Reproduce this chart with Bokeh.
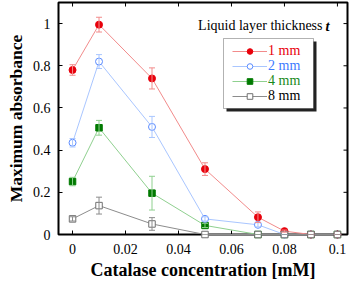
import math
from bokeh.plotting import figure
from bokeh.models import (ColumnDataSource, Whisker, FixedTicker,
                          NumeralTickFormatter, Legend, LegendItem, Label,
                          BoxAnnotation, Range1d)
from bokeh.embed import file_html
from bokeh.resources import INLINE

# ---- data ----
conc = [0, 0.01, 0.03, 0.05, 0.07, 0.08, 0.09, 0.1]
abs_1mm = [0.78, 0.995, 0.74, 0.31, 0.082, 0.016, 0.0, 0.0]
err_1mm = [0.025, 0.035, 0.05, 0.03, 0.025, 0.005, 0.0, 0.0]
abs_2mm = [0.435, 0.82, 0.51, 0.074, 0.046, 0.0, 0.0, 0.0]
err_2mm = [0.02, 0.033, 0.05, 0.01, 0.01, 0.0, 0.0, 0.0]
abs_4mm = [0.251, 0.506, 0.196, 0.043, 0.0, 0.0, 0.0, 0.0]
err_4mm = [0.02, 0.035, 0.08, 0.01, 0.0, 0.0, 0.0, 0.0]
abs_8mm = [0.074, 0.137, 0.05, 0.0, 0.0, 0.0, 0.0, 0.0]
err_8mm = [0.01, 0.04, 0.03, 0.0, 0.0, 0.0, 0.0, 0.0]
series_labels = ["1 mm", "2 mm", "4 mm", "8 mm"]
x_ticks = [0, 0.02, 0.04, 0.06, 0.08, 0.1]
y_ticks = [0, 0.2, 0.4, 0.6, 0.8, 1.0]

SERIF = "Liberation Serif"
W, H = 350, 283
X0, X1, Y0, Y1 = -0.0053, 0.1038, 0.0, 1.1
BL, BR, BT, BB = 58, 3, 2, 49
p = figure(width=W, height=H, output_backend="svg", toolbar_location=None,
           x_range=Range1d(X0, X1), y_range=Range1d(Y0, Y1),
           min_border_left=BL, min_border_right=BR, min_border_top=BT,
           min_border_bottom=BB)
p.xgrid.visible = False
p.ygrid.visible = False
p.outline_line_color = "black"
p.outline_line_width = 2
p.background_fill_color = "white"
p.border_fill_color = "white"


def style_axis(ax, ticks, fmt):
    ax.ticker = FixedTicker(ticks=ticks)
    ax.formatter = NumeralTickFormatter(format=fmt)
    ax.major_tick_in = 4
    ax.major_tick_out = 0
    ax.minor_tick_in = 0
    ax.minor_tick_out = 0
    ax.axis_line_color = None
    ax.major_tick_line_color = "black"
    ax.major_tick_line_width = 1
    ax.major_label_text_font = SERIF
    ax.major_label_text_color = "black"
    ax.major_label_text_font_size = "14px"
    ax.axis_label_text_font = SERIF
    ax.axis_label_text_font_style = "bold"
    ax.axis_label_text_color = "black"


style_axis(p.xaxis[0], x_ticks, "0.[00]")
style_axis(p.yaxis[0], y_ticks, "0.[0]")
p.xaxis[0].major_label_standoff = 9
p.yaxis[0].major_label_standoff = 8
p.xaxis[0].axis_label = "Catalase concentration [mM]"
p.xaxis[0].axis_label_standoff = 3
p.xaxis[0].axis_label_text_font_size = "18px"
p.yaxis[0].axis_label = "Maximum absorbance"
p.yaxis[0].axis_label_standoff = 4
p.yaxis[0].axis_label_text_font_size = "17.5px"

frame_bottom = H - BB

# mirrored inward ticks on the top and right edges (clipped half-dashes)
p.scatter(x=x_ticks, y=[Y1] * len(x_ticks), marker="dash", size=8,
          angle=math.pi / 2, line_color="black", line_width=1)
p.scatter(x=[X1] * len(y_ticks), y=y_ticks, marker="dash", size=8,
          line_color="black", line_width=1)

# ---- series ----
specs = [
    (abs_1mm, err_1mm, "#f28b8b", "circle", "#e8000b", "#e8000b", 7, "#e8000b"),
    (abs_2mm, err_2mm, "#a9c6ff", "circle", "white", "#5b8cff", 7, "#3d7bff"),
    (abs_4mm, err_4mm, "#8fd08f", "square", "#007a00", "#007a00", 6.5, "#1a8a1a"),
    (abs_8mm, err_8mm, "#8c8c8c", "square", "white", "#707070", 6.5, "black"),
]
draw_order = [2, 1, 0, 3]
renderers = {}
for i in draw_order:
    ys, es, lc, mk, fc, mc, sz, tc = specs[i]
    src = ColumnDataSource(dict(
        x=conc, y=ys,
        lo=[a - b for a, b in zip(ys, es)],
        hi=[a + b for a, b in zip(ys, es)]))
    wh = Whisker(source=src, base="x", lower="lo", upper="hi",
                 line_color=lc, line_width=1, level="overlay")
    wh.upper_head.size = 6
    wh.lower_head.size = 6
    wh.upper_head.line_color = lc
    wh.lower_head.line_color = lc
    p.add_layout(wh)
    ln = p.line("x", "y", source=src, line_color=lc, line_width=1,
                level="overlay")
    sc = p.scatter("x", "y", source=src, marker=mk, size=sz, fill_color=fc,
                   line_color=mc, line_width=1, level="overlay")
    renderers[i] = (ln, sc)

# ---- legend (canvas pixel coordinates) ----
box_l, box_r, box_t, box_b = 223, 313, 38, 108
p.add_layout(BoxAnnotation(left=box_l + 3, right=box_r + 3,
                           top=box_t + 3, bottom=box_b + 3,
                           left_units="canvas", right_units="canvas",
                           top_units="canvas", bottom_units="canvas",
                           fill_color="#222222", fill_alpha=1,
                           line_color=None, level="annotation"))
p.add_layout(BoxAnnotation(left=box_l, right=box_r, top=box_t, bottom=box_b,
                           left_units="canvas", right_units="canvas",
                           top_units="canvas", bottom_units="canvas",
                           fill_color="white", fill_alpha=1,
                           line_color="black", line_width=1,
                           level="annotation"))

for i in range(4):
    ln, sc = renderers[i]
    tc = specs[i][7]
    center = 52 + 15 * i  # canvas y of the item centre
    lg = Legend(items=[LegendItem(label=series_labels[i], renderers=[ln, sc])],
                location=(232 - BL, frame_bottom - (center + 7)),
                orientation="vertical",
                padding=0, margin=0, spacing=0, label_standoff=1,
                glyph_width=35, glyph_height=14, label_height=14,
                label_text_font=SERIF, label_text_font_size="14px",
                label_text_color=tc, label_text_baseline="middle",
                border_line_color=None, background_fill_alpha=0)
    p.add_layout(lg)

title_y = frame_bottom - 25
p.add_layout(Label(x=322 - BL, y=title_y, x_units="screen", y_units="screen",
                   text="Liquid layer thickness", text_font=SERIF,
                   text_font_size="14px", text_color="black",
                   text_align="right", text_baseline="middle"))
p.add_layout(Label(x=325 - BL, y=title_y, x_units="screen", y_units="screen",
                   text="t", text_font=SERIF, text_font_style="bold italic",
                   text_font_size="14.5px", text_color="black",
                   text_align="left", text_baseline="middle"))

open("out.html", "w").write(file_html(p, INLINE))
